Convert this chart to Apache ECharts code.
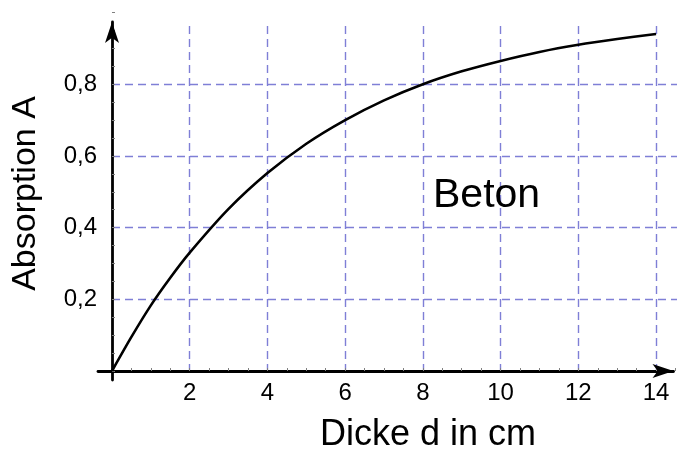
<!DOCTYPE html>
<html>
<head>
<meta charset="utf-8">
<script src="https://cdn.jsdelivr.net/npm/echarts@6/dist/echarts.min.js"></script>
<style>
html,body{margin:0;padding:0;background:#fff;}
#chart{width:677px;height:450px;}
</style>
</head>
<body>
<div id="chart"></div>
<script>
// Data
const thickness = [0, 0.5, 1, 1.5, 2, 3, 4, 5, 6, 7, 8, 9, 10, 11, 12, 13, 14];
const absorption = [0, 0.095, 0.183, 0.26, 0.33, 0.452, 0.552, 0.634, 0.70, 0.755, 0.80, 0.836, 0.865, 0.89, 0.91, 0.926, 0.94];
const xTickLabels = [2, 4, 6, 8, 10, 12, 14];
const yTickLabels = [0.2, 0.4, 0.6, 0.8];
const xTitle = 'Dicke d in cm';
const yTitle = 'Absorption A';
const curveLabel = 'Beton';

const FONT = '"Liberation Sans", Arial, Helvetica, sans-serif';
const gridColor = '#7f7fd6';
const tickColor = '#808080';

const chart = echarts.init(document.getElementById('chart'), null, {renderer: 'canvas'});
const seriesData = thickness.map((d, i) => [d, absorption[i]]);

function dashedLine(c) {
  return {show: true, showMinLine: false, showMaxLine: false,
    lineStyle: {color: c, width: 1.4, type: [8, 5], opacity: 1}};
}

const option = {
  backgroundColor: '#ffffff',
  animation: false,
  grid: [
    {left: 98, top: 22, width: 575.5, height: 358, outerBoundsMode: 'none'},
    {left: 112, top: 12.5, width: 565, height: 358.5, outerBoundsMode: 'none'},
    {left: 112, top: 26, width: 565, height: 345, outerBoundsMode: 'none'}
  ],
  xAxis: [
    {
      gridIndex: 0, type: 'value', min: -0.3603, max: 14.449,
      axisLine: {show: true, onZero: true, symbol: ['none', 'arrow'], symbolSize: [10.5, 21],
        lineStyle: {color: '#000', width: 2.8}},
      axisTick: {show: false}, axisLabel: {show: false}, splitLine: {show: false}
    },
    {
      gridIndex: 1, type: 'value', min: 0, max: 14.539, interval: 2,
      axisLine: {show: false},
      axisTick: {show: true, inside: true, length: 3, lineStyle: {color: tickColor, width: 1}},
      minorTick: {show: true, splitNumber: 4, length: 3, lineStyle: {color: tickColor, width: 1}},
      axisLabel: {
        show: true, margin: 10, color: '#000', fontFamily: FONT, fontSize: 24,
        formatter: v => xTickLabels.indexOf(v) >= 0 ? String(v) : ''
      },
      splitLine: {show: false}
    },
    {
      gridIndex: 2, type: 'value', min: 0, max: 14.539, interval: 2,
      axisLine: {show: false}, axisTick: {show: false}, axisLabel: {show: false},
      splitLine: dashedLine(gridColor)
    }
  ],
  yAxis: [
    {
      gridIndex: 0, type: 'value', min: -0.0251, max: 0.9735,
      axisLine: {show: true, onZero: true, symbol: ['none', 'arrow'], symbolSize: [10.5, 21],
        lineStyle: {color: '#000', width: 2.8}},
      axisTick: {show: false}, axisLabel: {show: false}, splitLine: {show: false}
    },
    {
      gridIndex: 1, type: 'value', min: 0, max: 1, interval: 0.2,
      axisLine: {show: false},
      axisTick: {show: true, inside: true, length: 3, lineStyle: {color: tickColor, width: 1}},
      minorTick: {show: true, splitNumber: 4, length: 3, lineStyle: {color: tickColor, width: 1}},
      axisLabel: {
        show: true, margin: 15, color: '#000', fontFamily: FONT, fontSize: 24,
        formatter: v => {
          const hit = yTickLabels.find(t => Math.abs(t - v) < 1e-6);
          return hit !== undefined ? hit.toFixed(1).replace('.', ',') : '';
        }
      },
      splitLine: dashedLine(gridColor)
    },
    {
      gridIndex: 2, type: 'value', min: 0, max: 1, show: false
    }
  ],
  series: [
    {
      type: 'line', xAxisIndex: 1, yAxisIndex: 1,
      data: seriesData, smooth: 0.3, showSymbol: false, symbol: 'none',
      lineStyle: {color: '#000', width: 2.6}, z: 5
    }
  ],
  graphic: [
    {type: 'text', x: 433, y: 196, z: 10,
      style: {text: curveLabel, fontSize: 41, fontFamily: FONT, fill: '#000', align: 'left', verticalAlign: 'middle', textAlign: 'left', textVerticalAlign: 'middle'}},
    {type: 'text', x: 428, y: 435, z: 10,
      style: {text: xTitle, fontSize: 36, fontFamily: FONT, fill: '#000', align: 'center', verticalAlign: 'middle', textAlign: 'center', textVerticalAlign: 'middle'}},
    {type: 'text', x: 26, y: 193.5, rotation: Math.PI / 2, z: 10,
      style: {text: yTitle, fontSize: 34, fontFamily: FONT, fill: '#000', align: 'center', verticalAlign: 'middle', textAlign: 'center', textVerticalAlign: 'middle'}}
  ]
};
chart.setOption(option);
</script>
</body>
</html>
